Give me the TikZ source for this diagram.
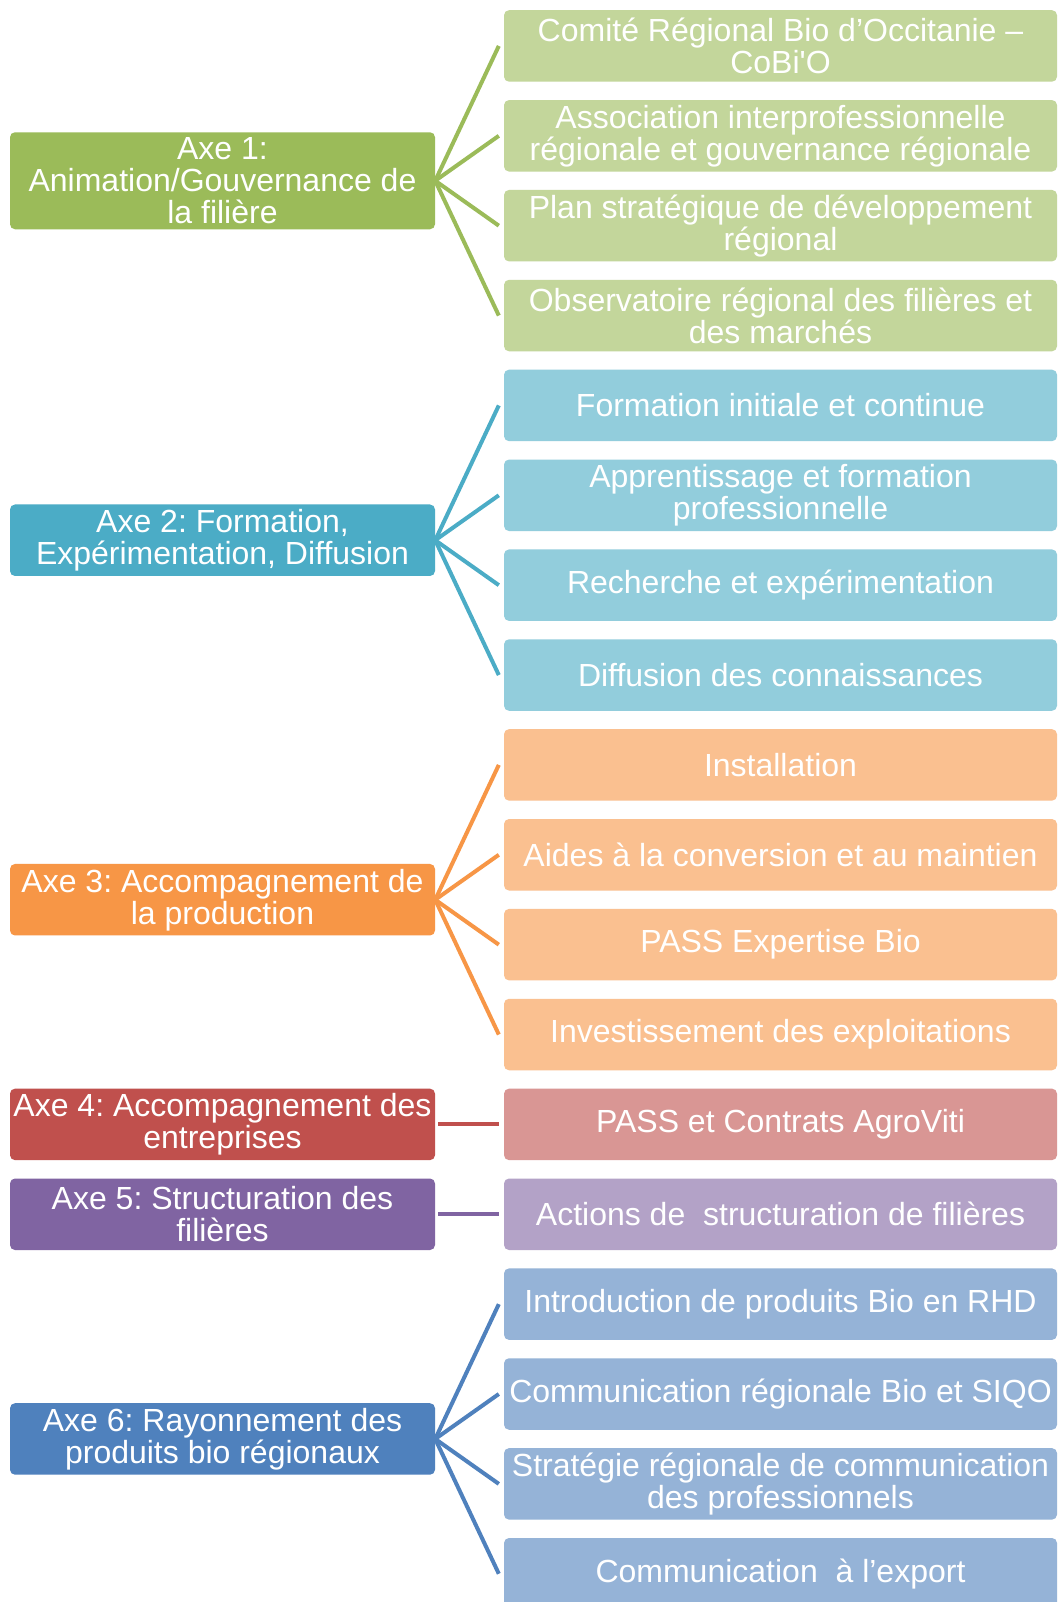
\documentclass[tikz,border=0pt]{standalone}
\usepackage{fontspec}
\setmainfont{Liberation Sans}
\frenchspacing
\definecolor{gA}{HTML}{9BBB59}\definecolor{gB}{HTML}{C3D69B}
\definecolor{tA}{HTML}{4BACC6}\definecolor{tB}{HTML}{92CDDC}
\definecolor{oA}{HTML}{F79646}\definecolor{oB}{HTML}{FAC090}
\definecolor{rA}{HTML}{C0504D}\definecolor{rB}{HTML}{D99694}
\definecolor{pA}{HTML}{8064A2}\definecolor{pB}{HTML}{B3A2C7}
\definecolor{bA}{HTML}{4F81BD}\definecolor{bB}{HTML}{95B3D7}
\tikzset{
  box/.style={rounded corners=5pt, inner sep=0pt, align=center, text=white,
    font=\fontsize{32}{32}\selectfont},
  kid/.style={box, minimum width=553pt, minimum height=71.5pt, fill=#1},
  axe/.style={box, minimum width=425pt, minimum height=71.5pt, fill=#1},
  link/.style={draw=#1, line width=4pt}
}
\begin{document}
\begin{tikzpicture}[x=1pt,y=-1pt]
\clip (0,0) rectangle (1058,1602);
\fill[white] (0,0) rectangle (1058,1602);
% axes
\node[axe=gA, minimum height=97pt] (a1) at (222.5,180.76) {Axe 1:\\Animation/Gouvernance de\\la filière};
\node[axe=tA] (a2) at (222.5,540.24) {Axe 2: Formation,\\Expérimentation, Diffusion};
\node[axe=oA] (a3) at (222.5,899.72) {Axe 3: Accompagnement de\\la production};
\node[axe=rA] (a4) at (222.5,1124.39) {Axe 4: Accompagnement des\\entreprises};
\node[axe=pA] (a5) at (222.5,1214.26) {Axe 5: Structuration des\\filières};
\node[axe=bA] (a6) at (222.5,1438.94) {Axe 6: Rayonnement des\\produits bio régionaux};
% children
\node[kid=gB] (k0) at (780.5,45.95) {Comité Régional Bio d’Occitanie –\\CoBi\textquotesingle O};
\node[kid=gB] (k1) at (780.5,135.82) {Association interprofessionnelle\\régionale et gouvernance régionale};
\node[kid=gB] (k2) at (780.5,225.69) {Plan stratégique de développement\\régional};
\node[kid=gB] (k3) at (780.5,315.56) {Observatoire régional des filières et\\des marchés};
\node[kid=tB] (k4) at (780.5,405.43) {Formation initiale et continue};
\node[kid=tB] (k5) at (780.5,495.30) {Apprentissage et formation\\professionnelle};
\node[kid=tB] (k6) at (780.5,585.17) {Recherche et expérimentation};
\node[kid=tB] (k7) at (780.5,675.04) {Diffusion des connaissances};
\node[kid=oB] (k8) at (780.5,764.91) {Installation};
\node[kid=oB] (k9) at (780.5,854.78) {Aides à la conversion et au maintien};
\node[kid=oB] (k10) at (780.5,944.65) {PASS Expertise Bio};
\node[kid=oB] (k11) at (780.5,1034.52) {Investissement des exploitations};
\node[kid=rB] (k12) at (780.5,1124.39) {PASS et Contrats AgroViti};
\node[kid=pB] (k13) at (780.5,1214.26) {Actions de\ \ structuration de filières};
\node[kid=bB] (k14) at (780.5,1304.13) {Introduction de produits Bio en RHD};
\node[kid=bB] (k15) at (780.5,1394.00) {Communication régionale Bio et SIQO};
\node[kid=bB] (k16) at (780.5,1483.87) {Stratégie régionale de communication\\des professionnels};
\node[kid=bB] (k17) at (780.5,1573.74) {Communication\ \ à l’export};
% links
\foreach \k in {0,1,2,3}{\draw[link=gA] (a1.east) -- ([xshift=-5pt]k\k.west);}
\foreach \k in {4,5,6,7}{\draw[link=tA] (a2.east) -- ([xshift=-5pt]k\k.west);}
\foreach \k in {8,9,10,11}{\draw[link=oA] (a3.east) -- ([xshift=-5pt]k\k.west);}
\draw[link=rA] ([xshift=3pt]a4.east) -- ([xshift=-5pt]k12.west);
\draw[link=pA] ([xshift=3pt]a5.east) -- ([xshift=-5pt]k13.west);
\foreach \k in {14,15,16,17}{\draw[link=bA] (a6.east) -- ([xshift=-5pt]k\k.west);}
\end{tikzpicture}
\end{document}
